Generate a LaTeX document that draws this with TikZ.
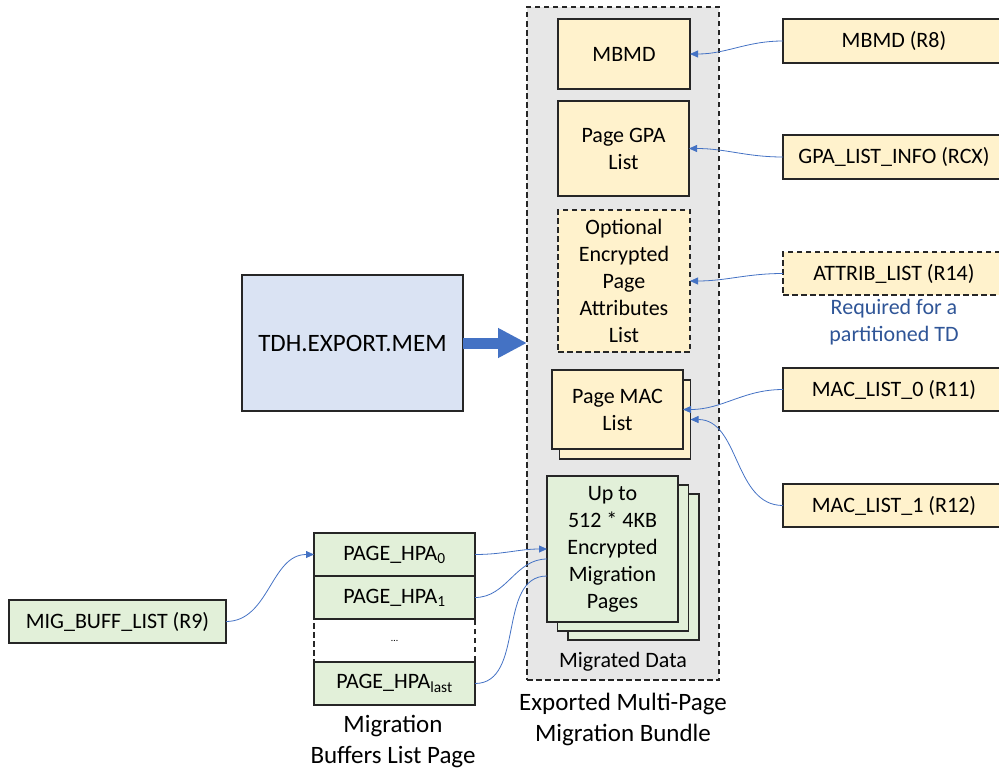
\documentclass[tikz,border=0pt]{standalone}
\usepackage{fontspec}
\setmainfont{Carlito}
\usetikzlibrary{arrows.meta,calc}
\definecolor{yel}{HTML}{FFF2CC}
\definecolor{grn}{HTML}{E2F0D9}
\definecolor{blu}{HTML}{DAE3F3}
\definecolor{gry}{HTML}{E7E7E7}
\definecolor{acc}{HTML}{4472C4}
\definecolor{acctext}{HTML}{2F5597}
\begin{document}
\begin{tikzpicture}[x=1pt,y=-1pt,
 box/.style={draw=black!85, line width=1.4pt, inner sep=0pt, outer sep=0pt, align=center, font=\fontsize{22}{27}\selectfont},
 ybox/.style={box, fill=yel},
 gbox/.style={box, fill=grn},
 dbox/.style={dash pattern=on 5.5pt off 3.5pt},
 conn/.style={draw=acc, line width=0.8pt},
 tipped/.style={-{Triangle[length=8pt,width=7pt]}},
 bigarrow/.style={draw=acc, line width=11pt, -{Triangle[length=29pt,width=28pt]}},
 lbl/.style={align=center, inner sep=0pt, font=\fontsize{25}{31}\selectfont},
]
\useasboundingbox (0,0) rectangle (999,771);

% bundle
\node[draw=black!85, fill=gry, line width=1.2pt, dbox, minimum width=192pt, minimum height=673pt, inner sep=0pt, outer sep=0pt] (bundle) at (623,343.5) {};
\node[inner sep=0pt, font=\fontsize{22}{27}\selectfont] (migdata) at (623,662) {Migrated Data};
\node[lbl] (bundlelbl) at (623,719.5) {Exported Multi-Page\\Migration Bundle};

% inner boxes
\node[ybox, minimum width=132pt, minimum height=70pt] (mbmd) at (624,54) {MBMD};
\node[ybox, minimum width=131pt, minimum height=95pt] (gpa) at (623.5,148.5) {Page GPA\\List};
\node[ybox, dbox, minimum width=132pt, minimum height=142pt] (attr) at (624,281) {Optional\\Encrypted\\Page\\Attributes\\List};
\node[ybox, minimum width=131pt, minimum height=79pt] (macb) at (625,419.5) {};
\node[ybox, minimum width=131pt, minimum height=79pt] (mac) at (617.5,409.5) {Page MAC\\List};

\node[gbox, minimum width=131pt, minimum height=146pt] (mp2) at (633.5,567) {};
\node[gbox, minimum width=131pt, minimum height=146pt] (mp1) at (623,558) {};
\node[gbox, minimum width=131pt, minimum height=146pt] (mp) at (612.5,549) {Up to\\512 * 4KB\\Encrypted\\Migration\\Pages};

% right boxes
\node[ybox, minimum width=222pt, minimum height=44pt] (r8) at (894,41) {MBMD (R8)};
\node[ybox, minimum width=222pt, minimum height=44pt] (rcx) at (894,157) {GPA\_LIST\_INFO (RCX)};
\node[ybox, dbox, minimum width=222pt, minimum height=43pt] (r14) at (894,273.5) {ATTRIB\_LIST (R14)};
\node[text=acctext, align=center, inner sep=0pt, font=\fontsize{22}{27}\selectfont] (req) at (894,322.5) {Required for a\\partitioned TD};
\node[ybox, minimum width=222pt, minimum height=43pt] (r11) at (894,389.5) {MAC\_LIST\_0 (R11)};
\node[ybox, minimum width=222pt, minimum height=43pt] (r12) at (894,505.5) {MAC\_LIST\_1 (R12)};

% TDH
\node[box, fill=blu, minimum width=221pt, minimum height=136pt, font=\fontsize{25}{30}\selectfont] (tdh) at (352.5,343) {TDH.EXPORT.MEM};
\draw[bigarrow] (tdh.east) -- (tdh.east -| bundle.west);

% migration buffers list page
\node[box, dbox, fill=white, minimum width=161pt, minimum height=43pt, font=\fontsize{10}{12}\selectfont] (dots) at (394.5,640.5) {\ldots};
\node[gbox, minimum width=161pt, minimum height=43pt] (hpa0) at (394.5,554.5) {PAGE\_HPA\textsubscript{0}};
\node[gbox, minimum width=161pt, minimum height=43pt] (hpa1) at (394.5,597.5) {PAGE\_HPA\textsubscript{1}};
\node[gbox, minimum width=161pt, minimum height=43pt] (hpal) at (394.5,683.5) {PAGE\_HPA\textsubscript{last}};
\node[lbl] (listlbl) at (393,741) {Migration\\Buffers List Page};

\node[gbox, minimum width=217pt, minimum height=43pt] (mig) at (117.5,621.5) {MIG\_BUFF\_LIST (R9)};

% connectors
\coordinate (mpin1) at ($(mp.west)+(0,10)$);
\coordinate (mpin2) at ($(mp.west)+(0,27)$);
\draw[conn, tipped] (r8.west) to[out=180,in=0] (mbmd.east);
\draw[conn, tipped] (rcx.west) to[out=180,in=0] (gpa.east);
\draw[conn, tipped] (r14.west) to[out=180,in=0] (attr.east);
\draw[conn, tipped] (r11.west) to[out=180,in=0] (mac.east);
\draw[conn, tipped] (r12.west) to[out=180,in=0] (macb.east);
\draw[conn, tipped] (mig.east) to[out=0,in=180] (hpa0.west);
\draw[conn, tipped] (hpa0.east) to[out=0,in=180] (mp.west);
\draw[conn] (hpa1.east) to[out=0,in=180] (mpin1);
\draw[conn] (hpal.east) to[out=0,in=180] (mpin2);
\end{tikzpicture}
\end{document}
